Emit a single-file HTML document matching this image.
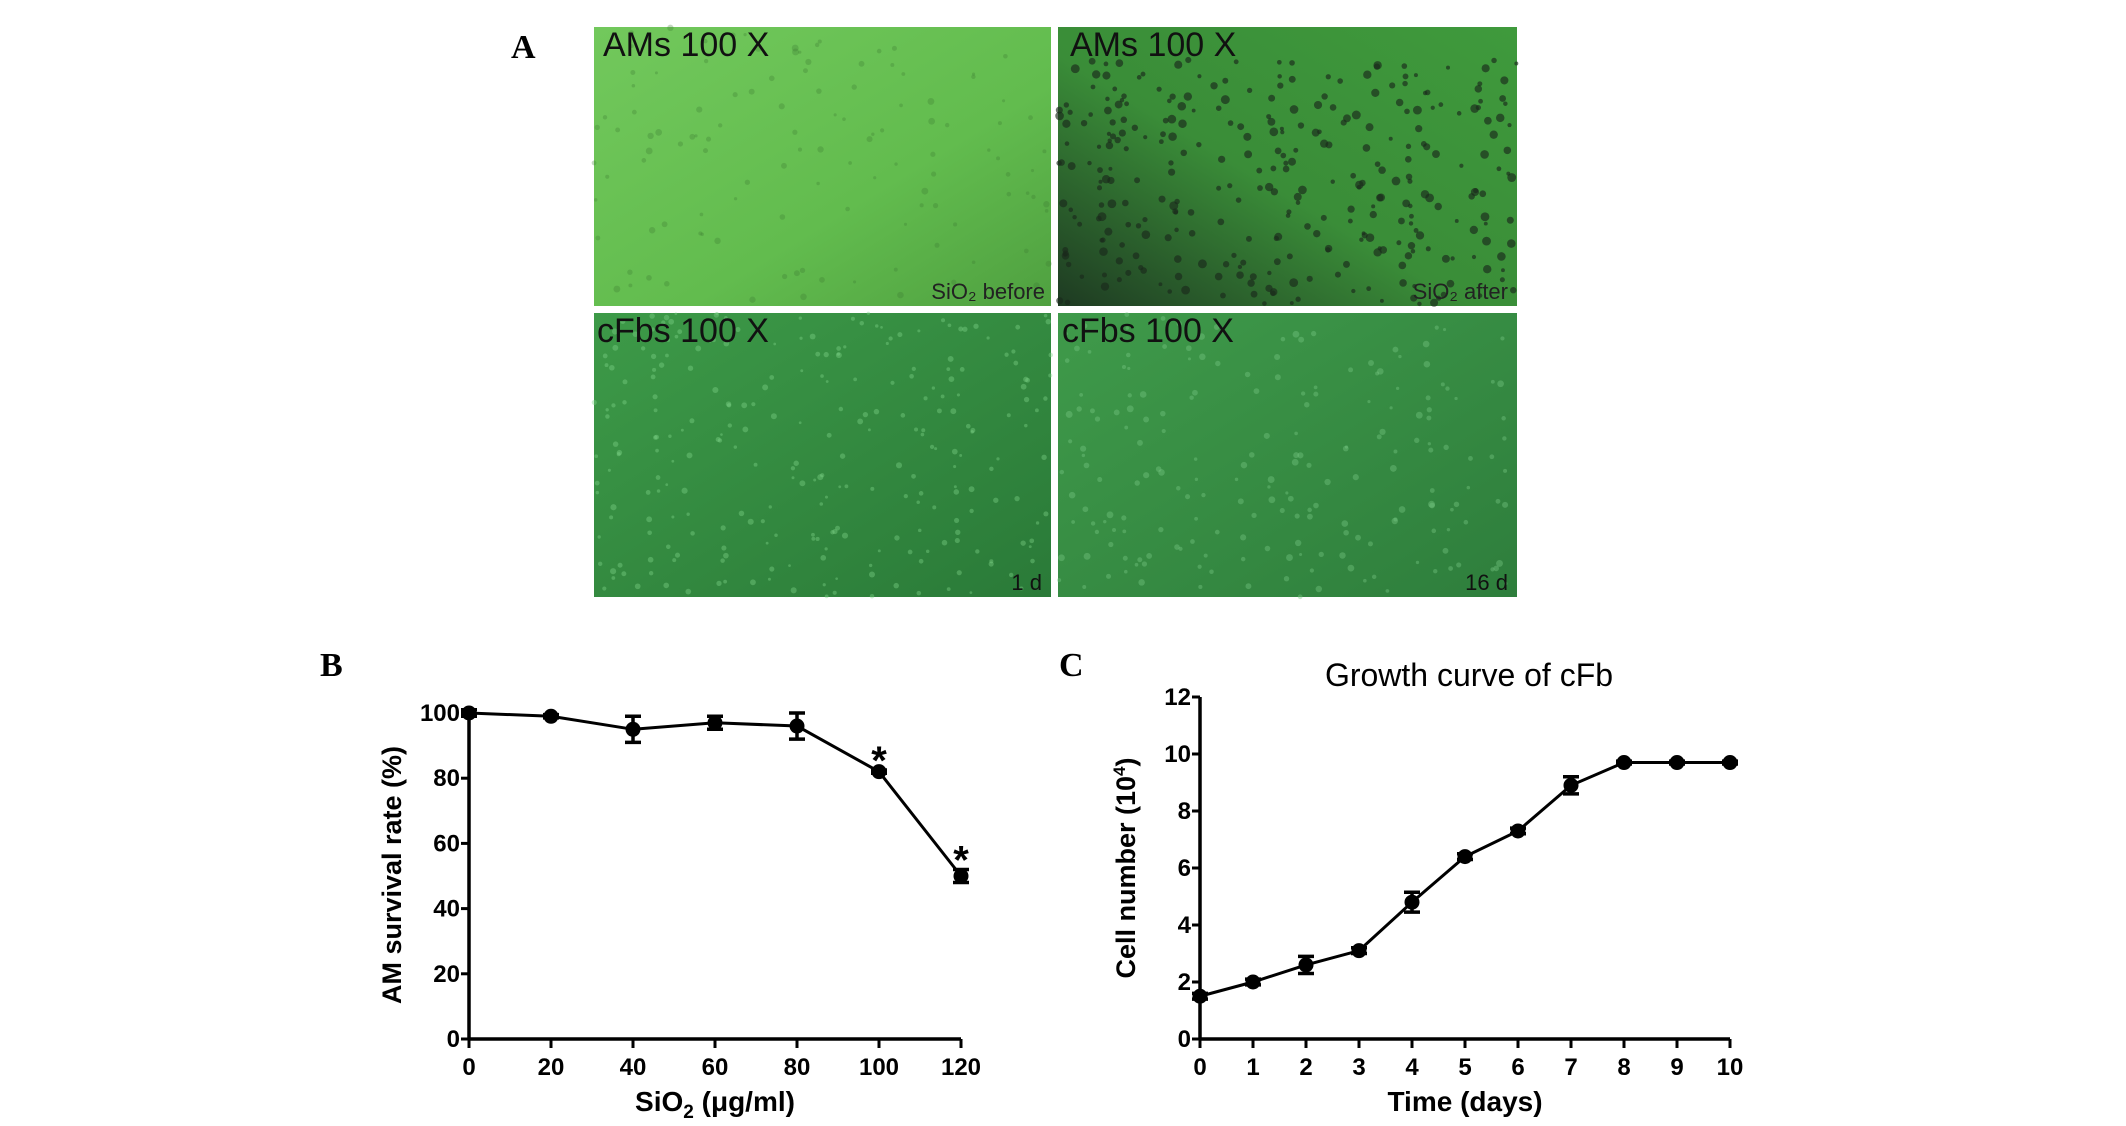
<!DOCTYPE html>
<html><head><meta charset="utf-8"><style>
html,body{margin:0;padding:0;background:#fff;}
svg{display:block;font-family:"Liberation Sans",sans-serif;}
.tk{font-weight:bold;font-size:24px;fill:#000;}
</style></head><body>
<svg id="fig" width="2126" height="1126" viewBox="0 0 2126 1126">
<defs>
<linearGradient id="g1" x1="0" y1="0" x2="1" y2="1"><stop offset="0" stop-color="#72c85c"/><stop offset="0.6" stop-color="#62bc4e"/><stop offset="1" stop-color="#4fa040"/></linearGradient>
<linearGradient id="g2" x1="1" y1="0" x2="0" y2="1"><stop offset="0" stop-color="#3f9a3c"/><stop offset="0.55" stop-color="#3a8d38"/><stop offset="1" stop-color="#1e3a22"/></linearGradient>
<linearGradient id="g3" x1="0" y1="0" x2="1" y2="1"><stop offset="0" stop-color="#3d9a48"/><stop offset="1" stop-color="#2a7a38"/></linearGradient>
<linearGradient id="g4" x1="0" y1="0" x2="1" y2="1"><stop offset="0" stop-color="#3f9a4a"/><stop offset="1" stop-color="#2e7e3c"/></linearGradient>
</defs>
<text x="511" y="58" font-family="Liberation Serif" font-weight="bold" font-size="34">A</text>
<g>
<rect x="594" y="27" width="457" height="279" fill="url(#g1)"/>
<g id="d1"></g>
<text x="603" y="56" font-size="34" fill="#111">AMs 100 X</text>
<text x="1045" y="299" font-size="22" fill="#222" text-anchor="end">SiO₂   before</text>
</g>
<g>
<rect x="1058" y="27" width="459" height="279" fill="url(#g2)"/>
<g id="d2"></g>
<text x="1070" y="56" font-size="34" fill="#111">AMs 100 X</text>
<text x="1508" y="299" font-size="22" fill="#222" text-anchor="end">SiO₂  after</text>
</g>
<g>
<rect x="594" y="313" width="457" height="284" fill="url(#g3)"/>
<g id="d3"></g>
<text x="597" y="342" font-size="34" fill="#111">cFbs 100 X</text>
<text x="1042" y="590" font-size="22" fill="#111" text-anchor="end">1 d</text>
</g>
<g>
<rect x="1058" y="313" width="459" height="284" fill="url(#g4)"/>
<g id="d4"></g>
<text x="1062" y="342" font-size="34" fill="#111">cFbs 100 X</text>
<text x="1508" y="590" font-size="22" fill="#111" text-anchor="end">16 d</text>
</g>

<text x="320" y="676" font-family="Liberation Serif" font-weight="bold" font-size="34">B</text>
<g id="chartB"></g>
<text x="1059" y="676" font-family="Liberation Serif" font-weight="bold" font-size="34">C</text>
<text x="1469" y="686" font-size="32" text-anchor="middle">Growth curve of cFb</text>
<g id="chartC"></g>
</svg>
<script>
// Chart B data
const bX = [0, 20, 40, 60, 80, 100, 120];
const bY = [100, 99, 95, 97, 96, 82, 50];
const bErr = [1, 0.5, 4, 2, 4, 0.5, 2];
const bYTicks = [0, 20, 40, 60, 80, 100];
const bXTicks = [0, 20, 40, 60, 80, 100, 120];
const bStars = [100, 120];
// Chart C data
const cX = [0, 1, 2, 3, 4, 5, 6, 7, 8, 9, 10];
const cY = [1.5, 2.0, 2.6, 3.1, 4.8, 6.4, 7.3, 8.9, 9.7, 9.7, 9.7];
const cErr = [0.1, 0.1, 0.3, 0.1, 0.35, 0.1, 0.1, 0.3, 0.05, 0.05, 0.05];
const cYTicks = [0, 2, 4, 6, 8, 10, 12];
const cXTicks = [0, 1, 2, 3, 4, 5, 6, 7, 8, 9, 10];

const NS = "http://www.w3.org/2000/svg";
function mk(p, tag, a, txt){const e=document.createElementNS(NS,tag);for(const k in a)e.setAttribute(k,a[k]);if(txt!==undefined)e.textContent=txt;p.appendChild(e);return e;}

// micrograph speckles (decorative texture)
let seed=7;function rnd(){seed=(seed*9301+49297)%233280;return seed/233280;}
function speck(id,x,y,w,h,n,col,r,op){const g=document.getElementById(id);for(let i=0;i<n;i++){mk(g,'circle',{cx:x+rnd()*w,cy:y+rnd()*h,r:r*(0.6+rnd()*0.8),fill:col,opacity:op});}}
speck('d1',594,27,457,279,120,'#3d7a33',2.5,0.3);
speck('d2',1058,60,459,246,320,'#1a2a1c',3.2,0.65);
speck('d3',594,313,457,284,260,'#7fd48a',2.2,0.4);
speck('d4',1058,313,459,284,200,'#78c884',2.5,0.4);

function drawChart(gid, o){
  const g=document.getElementById(gid);
  const sx=v=>o.x0+(v-o.xmin)/(o.xmax-o.xmin)*(o.x1-o.x0);
  const sy=v=>o.y0-(v-o.ymin)/(o.ymax-o.ymin)*(o.y0-o.y1);
  const ax=mk(g,'line',{x1:o.x0,y1:o.y0,x2:o.x1,y2:o.y0,stroke:'#000','stroke-width':3.5});
   
  const ay=mk(g,'line',{x1:o.x0,y1:o.y0,x2:o.x0,y2:o.y1,stroke:'#000','stroke-width':3.5});
   
  o.yt.forEach(v=>{mk(g,'line',{x1:o.x0-8,y1:sy(v),x2:o.x0,y2:sy(v),stroke:'#000','stroke-width':3});
    const t=mk(g,'text',{x:o.x0-9,y:sy(v)+8,'text-anchor':'end',class:'tk'},String(v));
     });
  o.xt.forEach(v=>{mk(g,'line',{x1:sx(v),y1:o.y0,x2:sx(v),y2:o.y0+9,stroke:'#000','stroke-width':3});
    const t=mk(g,'text',{x:sx(v),y:o.y0+36,'text-anchor':'middle',class:'tk'},String(v));
     });
  const pts=o.xs.map((v,i)=>sx(v)+','+sy(o.ys[i])).join(' ');
  const pl=mk(g,'polyline',{points:pts,fill:'none',stroke:'#000','stroke-width':3});
   
  o.xs.forEach((v,i)=>{
    const cx=sx(v), top=sy(o.ys[i]+o.err[i]), bot=sy(o.ys[i]-o.err[i]);
    const eb=mk(g,'path',{d:`M${cx},${top}V${bot}M${cx-8},${top}H${cx+8}M${cx-8},${bot}H${cx+8}`,stroke:'#000','stroke-width':3.5,fill:'none'});
     
    const c=mk(g,'circle',{cx:cx,cy:sy(o.ys[i]),r:7.5,fill:'#000'});
     
  });
  return {sx,sy};
}
const B=drawChart('chartB',{x0:469,x1:961,y0:1039,y1:713,xmin:0,xmax:120,ymin:0,ymax:100,xs:bX,ys:bY,err:bErr,yt:bYTicks,xt:bXTicks});
const gB=document.getElementById('chartB');
bStars.forEach(v=>{const i=bX.indexOf(v);const s=mk(gB,'text',{x:B.sx(v),y:B.sy(bY[i]+bErr[i])+4,'text-anchor':'middle','font-size':40,'font-weight':'bold'},'*');
   });
const yb=mk(gB,'text',{x:0,y:0,transform:'translate(401,875) rotate(-90)','text-anchor':'middle','font-size':27,'font-weight':'bold'},'AM survival rate (%)');
 
const xb=mk(gB,'text',{x:715,y:1111,'text-anchor':'middle','font-size':28,'font-weight':'bold'},'');
 
xb.innerHTML='SiO<tspan font-size="19" dy="7">2</tspan><tspan dy="-7"> (μg/ml)</tspan>';

const C=drawChart('chartC',{x0:1200,x1:1730,y0:1039,y1:697,xmin:0,xmax:10,ymin:0,ymax:12,xs:cX,ys:cY,err:cErr,yt:cYTicks,xt:cXTicks});
const gC=document.getElementById('chartC');
const yc=mk(gC,'text',{x:0,y:0,transform:'translate(1135,868) rotate(-90)','text-anchor':'middle','font-size':27,'font-weight':'bold'},'');
 
yc.innerHTML='Cell number (10<tspan font-size="17" dy="-10">4</tspan><tspan dy="10">)</tspan>';
const xc=mk(gC,'text',{x:1465,y:1111,'text-anchor':'middle','font-size':28,'font-weight':'bold'},'Time (days)');
 
</script>
</body></html>
